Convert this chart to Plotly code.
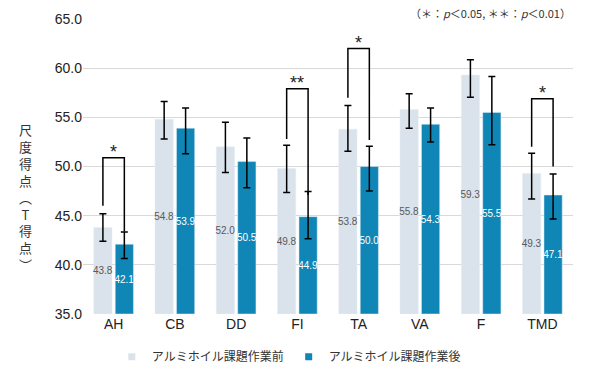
import plotly.graph_objects as go

categories = ["AH", "CB", "DD", "FI", "TA", "VA", "F", "TMD"]
before_vals = [43.8, 54.8, 52.0, 49.8, 53.8, 55.8, 59.3, 49.3]
after_vals = [42.1, 53.9, 50.5, 44.9, 50.0, 54.3, 55.5, 47.1]
before_err_plus = [1.4, 1.8, 2.5, 2.35, 2.4, 1.6, 1.55, 2.05]
before_err_minus = [1.4, 2.0, 2.6, 2.45, 2.25, 1.9, 2.25, 2.6]
after_err_plus = [1.25, 2.05, 2.4, 2.55, 2.05, 1.65, 3.65, 2.15]
after_err_minus = [1.45, 2.6, 2.65, 2.25, 2.5, 1.8, 3.3, 2.45]
y_ticks = [35.0, 40.0, 45.0, 50.0, 55.0, 60.0, 65.0]
y_floor = 35.0

# significance brackets: category index, bracket top, left leg end, right leg end, label
sig_index = [0, 3, 4, 7]
sig_top = [50.9, 57.9, 62.0, 56.9]
sig_left_end = [46.0, 52.8, 57.0, 52.0]
sig_right_end = [43.4, 47.1, 52.7, 50.0]
sig_label = ["*", "**", "*", "*"]

series_names = ["アルミホイル課題作業前", "アルミホイル課題作業後"]
c_before = "#dae3ec"
c_after = "#0f86b6"


def bar_trace(vals, ep, em, name, color, txtcolor):
    return go.Bar(
        x=categories, y=[v - y_floor for v in vals], base=y_floor,
        customdata=vals, name=name, marker_color=color,
        texttemplate="%{customdata:.1f}", textposition="inside",
        insidetextanchor="middle", textangle=0, constraintext="none",
        textfont=dict(color=txtcolor, size=10, family="Liberation Sans, Arial"),
        hovertemplate="%{x}: %{customdata:.1f}<extra>" + name + "</extra>",
        error_y=dict(type="data", array=ep, arrayminus=em,
                     color="black", thickness=1.5, width=3.5),
        showlegend=False,
    )


fig = go.Figure()
fig.add_trace(bar_trace(before_vals, before_err_plus, before_err_minus,
                        series_names[0], c_before, "#595959"))
fig.add_trace(bar_trace(after_vals, after_err_plus, after_err_minus,
                        series_names[1], c_after, "white"))
# legend entries (small squares like the reference)
for nm, col in zip(series_names, [c_before, c_after]):
    fig.add_trace(go.Scatter(x=[None], y=[None], mode="markers", name=nm,
                             marker=dict(symbol="square", size=7, color=col)))

bargap = 0.3
off = (1 - bargap) / 4
for i, top, le, re, lab in zip(sig_index, sig_top, sig_left_end, sig_right_end, sig_label):
    x0 = i - off
    x1 = i + off
    fig.add_shape(type="path",
                  path=f"M {x0},{le} L {x0},{top} L {x1},{top} L {x1},{re}",
                  xref="x", yref="y", line=dict(color="black", width=1.5))
    fig.add_annotation(x=i, y=top, xref="x", yref="y", text=lab, showarrow=False,
                       yanchor="bottom", yshift=-6,
                       font=dict(size=18, color="#222", family="Liberation Sans, Arial"))

ytitle = "尺度得点︵T得点︶"
fig.add_annotation(x=-0.118, y=0.395, xref="paper", yref="paper",
                   text="<br>".join(list(ytitle)), showarrow=False,
                   xanchor="center", yanchor="middle", align="center",
                   font=dict(size=13, color="#333", family="Noto Sans CJK JP"))
fig.add_annotation(x=1.0, y=1.02, xref="paper", yref="paper",
                   text="（＊：<i>p</i>＜0.05, ＊＊：<i>p</i>＜0.01）", showarrow=False,
                   xanchor="right", yanchor="middle",
                   font=dict(size=11, color="#333", family="Noto Sans CJK JP"))

fig.update_layout(
    width=600, height=383,
    margin=dict(l=83, r=27, t=19, b=66),
    plot_bgcolor="white", paper_bgcolor="white",
    barmode="group", bargap=bargap, bargroupgap=0.15,
    font=dict(family="Liberation Sans, Arial", color="#333"),
    showlegend=True,
    legend=dict(orientation="h", x=0.42, xanchor="center", y=-0.145, yanchor="middle",
                font=dict(size=12, color="#333", family="Noto Sans CJK JP"),
                itemwidth=30, tracegroupgap=0, bgcolor="rgba(0,0,0,0)"),
    xaxis=dict(showgrid=False, showline=False, ticks="",
               tickfont=dict(size=14, color="#222")),
    yaxis=dict(range=[35, 65], tickvals=y_ticks, tickformat=".1f",
               showgrid=True, gridcolor="#d9d9d9", gridwidth=1,
               zeroline=False, showline=False, ticks="",
               tickfont=dict(size=14, color="#222")),
)

fig.write_html("out.html", config={"displayModeBar": False},
               post_script="document.body.style.margin='0';")
